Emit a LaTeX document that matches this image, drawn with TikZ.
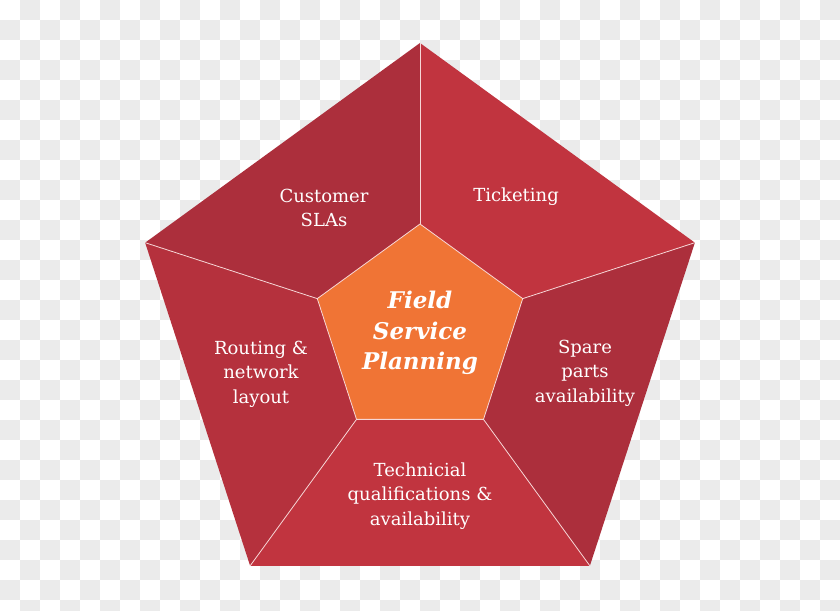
\documentclass[tikz,border=0pt]{standalone}
\usepackage{fontspec}
\setmainfont{DejaVu Serif}
\usetikzlibrary{calc}

\definecolor{checkgray}{HTML}{EBEBEB}
\definecolor{segdark}{HTML}{AC2F3C}
\definecolor{seglight}{HTML}{C1343F}
\definecolor{segmid}{HTML}{B5313D}
\definecolor{corefill}{HTML}{F07435}
\definecolor{seamline}{HTML}{F6D6D6}

\begin{document}
\begin{tikzpicture}[x=1pt, y=1pt,
    label/.style={text=white, align=center, font={\fontsize{18}{24.5}\selectfont}},
    core/.style={text=white, align=center, font={\fontsize{23}{30.5}\selectfont\bfseries\itshape}},
    seam/.style={draw=seamline, line width=.8pt}]
  \useasboundingbox (0,0) rectangle (840,610);
  % checker background
  \fill[white] (0,0) rectangle (840,610);
  \begin{scope}
    \clip (0,0) rectangle (840,610);
    \foreach \row in {0,...,30}
      \foreach \col in {1,3,...,41}
        \fill[checkgray] ({20*\col-20*mod(\row,2)},{610-20*\row}) rectangle ++(20,-20);
  \end{scope}
  \coordinate (c) at (420,278);
  \foreach \k/\a in {1/90,2/162,3/234,4/306,5/18} {
    \coordinate (o\k) at ($(c)+(\a:289)$);
    \coordinate (i\k) at ($(c)+(\a:108)$);
  }
  \fill[segdark] (o1) -- (o2) -- (i2) -- (i1) -- cycle;
  \fill[seglight] (o1) -- (i1) -- (i5) -- (o5) -- cycle;
  \fill[segdark] (o5) -- (i5) -- (i4) -- (o4) -- cycle;
  \fill[seglight] (o4) -- (i4) -- (i3) -- (o3) -- cycle;
  \fill[segmid] (o3) -- (i3) -- (i2) -- (o2) -- cycle;
  \filldraw[corefill, seam] (i1) -- (i2) -- (i3) -- (i4) -- (i5) -- cycle;
  \foreach \k in {1,...,5}
    \draw[seam] (o\k) -- (i\k);

  \node (cust) at (324,402) [label] {Customer\\SLAs};
  \node (tick) at (516,413) [label] {Ticketing};
  \node (rout) at (261,236) [label] {Routing \&\\network\\layout};
  \node (spare) at (585,237) [label] {Spare\\parts\\availability};
  \node (tech) at (420,114) [label] {Technicial\\qualifications \&\\availability};
  \node (fsp) at (420,277) [core] {Field\\Service\\Planning};
\end{tikzpicture}
\end{document}
